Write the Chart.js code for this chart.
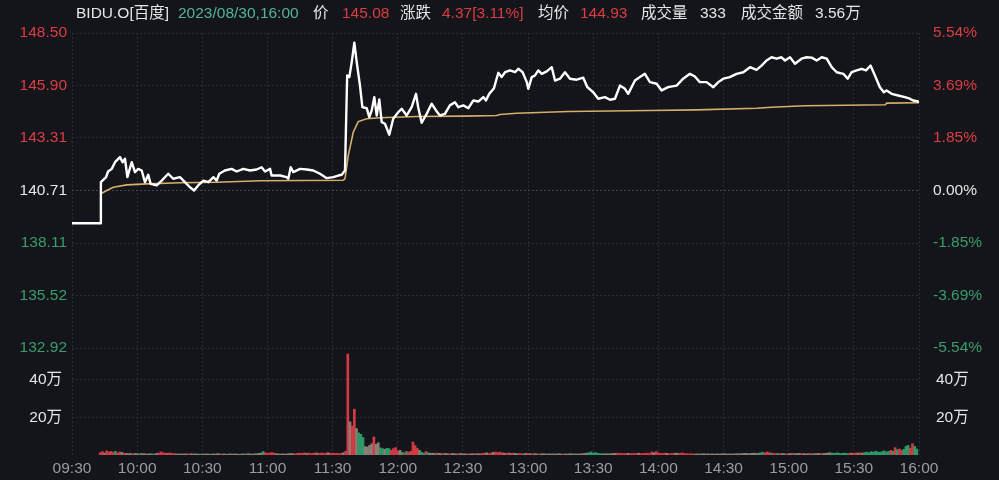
<!DOCTYPE html>
<html>
<head>
<meta charset="utf-8">
<script src="https://cdn.jsdelivr.net/npm/chart.js@4.4.0/dist/chart.umd.min.js"></script>
<style>
  html, body { margin: 0; padding: 0; background: #14151a; }
  #wrap { position: relative; width: 999px; height: 480px; overflow: hidden; }
  #head { position: absolute; left: 0; top: 0; width: 999px; height: 26px;
          font: 15.5px "Liberation Sans", "Noto Sans CJK SC", sans-serif; color: #e6e6e6; }
  #head span { position: absolute; top: 4px; line-height: 17px; white-space: nowrap; }
  .red { color: #dc3d44; }
  .teal { color: #52b49e; }
  canvas { position: absolute; left: 0; top: 0; }
</style>
</head>
<body>
<div id="wrap">
  <canvas id="chart" width="999" height="480"></canvas>
  <div id="head">
    <span style="left:76px">BIDU.O[百度]</span>
    <span class="teal" style="left:178px">2023/08/30,16:00</span>
    <span style="left:313px">价</span>
    <span class="red" style="left:342px">145.08</span>
    <span style="left:400px">涨跌</span>
    <span class="red" style="left:442px">4.37[3.11%]</span>
    <span style="left:538px">均价</span>
    <span class="red" style="left:580px">144.93</span>
    <span style="left:641px">成交量</span>
    <span style="left:700px">333</span>
    <span style="left:741px">成交金额</span>
    <span style="left:815px">3.56万</span>
  </div>
</div>
<script>
// --- data (minutes since 09:30, prices in USD, volume in 万) ---
const timeLabels = ["09:30", "10:00", "10:30", "11:00", "11:30", "12:00", "12:30",
  "13:00", "13:30", "14:00", "14:30", "15:00", "15:30", "16:00"];
const prevClose = 140.71;
const priceTicks = [132.92, 135.52, 138.11, 140.71, 143.31, 145.90, 148.50];
const pctTicks = [-5.54, -3.69, -1.85, 0, 1.85, 3.69, 5.54];
const volTicks = [20, 40];

const priceMinutes = [0, 13, 13.3, 15.7, 16.6, 18.3, 19.8, 22.1, 23.3, 24.4, 25.5, 27.5, 29.0, 30.5, 32.1,
  33.6, 35.1, 36.2, 39.0, 41.3, 44.3, 46.6, 49.7, 52.0, 54.3, 56.2, 58.1, 60.5, 62.8, 65.1, 66.6,
  67.8, 70.4, 73.5, 75.8, 78.9, 82.0, 85.0, 87.3, 88.9, 91.2, 91.9, 95.8, 98.8, 99.6, 100.7, 101.9,
  105.0, 108.1, 111.1, 114.2, 117.3, 120.3, 122.6, 124.2, 125.7, 126.7, 127.7, 128.8, 130.0, 131.1,
  132.6, 133.7, 135.7, 136.9, 138.0, 139.2, 140.3, 141.5, 142.6, 144.1, 146.1, 147.9, 150.2, 151.8,
  154.1, 156.4, 158.4, 159.4, 161.0, 163.3, 165.6, 167.6, 169.4, 171.7, 174.0, 176.3, 177.9, 180.2,
  182.5, 184.8, 187.1, 189.4, 190.6, 192.1, 194.3, 195.5, 196.3, 197.8, 199.4, 201.7, 204.0, 205.5,
  207.5, 209.4, 210.1, 211.7, 213.2, 214.7, 216.3, 218.6, 220.9, 222.4, 224.7, 227.0, 229.3, 232.4,
  235.4, 237.3, 240.0, 242.3, 245.4, 247.7, 250.0, 252.3, 254.6, 256.1, 259.2, 261.5, 263.8, 266.1,
  269.2, 271.5, 274.5, 278.4, 281.4, 284.5, 286.8, 289.1, 292.2, 295.3, 297.6, 299.9, 302.9, 306.0,
  309.1, 312.2, 315.2, 317.5, 319.8, 322.1, 324.4, 326.7, 328.3, 330.6, 332.9, 335.9, 338.3, 340.6,
  342.9, 345.2, 347.5, 349.8, 352.1, 355.2, 357.2, 359.0, 361.3, 363.6, 365.6, 367.7, 369.7, 372.0,
  373.8, 375.1, 377.4, 380.4, 383.5, 385.8, 387.3, 389.2, 390];
const prices = [139.09, 139.09, 141.12, 141.37, 141.65, 141.78, 142.11, 142.36, 142.11, 142.28, 141.37, 142.11, 141.62, 141.78, 141.70,
  141.12, 141.49, 141.04, 140.96, 141.20, 141.54, 141.29, 141.37, 141.12, 140.87, 140.71, 140.96, 141.20, 141.12, 141.37, 141.20,
  141.54, 141.70, 141.78, 141.65, 141.78, 141.70, 141.75, 141.86, 141.65, 141.78, 141.45, 141.45, 141.37, 141.29, 141.86, 141.62,
  141.78, 141.75, 141.70, 141.54, 141.32, 141.37, 141.45, 141.49, 141.70, 146.40, 146.32, 147.06, 148.02, 147.06,
  145.90, 144.83, 144.78, 144.34, 144.67, 145.33, 144.42, 145.21, 144.09, 144.01, 143.47, 144.26, 144.58, 144.75,
  144.42, 144.83, 145.49, 144.83, 144.06, 144.50, 145.00, 144.67, 144.42, 144.50, 144.92, 145.08, 144.83, 144.92,
  144.78, 145.16, 145.11, 145.33, 145.16, 145.49, 145.77, 146.24, 146.53, 146.32, 146.56, 146.65, 146.56, 146.73,
  146.56, 146.07, 145.74, 146.32, 146.40, 146.65, 146.48, 146.60, 146.81, 146.15, 146.24, 146.56, 146.24, 146.19,
  146.29, 145.82, 145.57, 145.25, 145.33, 145.20, 145.25, 145.90, 145.74, 145.49, 146.15, 146.32, 146.48, 146.07,
  145.99, 145.66, 145.82, 145.90, 146.24, 146.48, 146.35, 146.07, 146.07, 145.82, 146.07, 146.24, 146.32, 146.48,
  146.56, 146.81, 146.68, 146.89, 147.14, 147.30, 147.23, 147.30, 147.14, 147.30, 146.98, 147.23, 147.30, 147.28,
  147.14, 147.30, 147.23, 146.81, 146.56, 146.48, 146.24, 146.56, 146.65, 146.73, 146.65, 146.89, 146.40, 145.82,
  145.57, 145.66, 145.49, 145.41, 145.33, 145.25, 145.16, 145.13, 145.08];

const avgMinutes = [0, 13, 13.3, 16.0, 19.0, 25.2, 34.4, 49.7, 66.6, 86.6, 124.9, 125.7, 127.2, 129.5,
  131.8, 135.7, 141.8, 158.7, 180.2, 195.5, 197.1, 204.7, 228.4, 266.1, 287.6, 315.2, 322.1, 337.5,
  374.5, 375.1, 390];
const avgPrices = [139.09, 139.09, 140.55, 140.71, 140.87, 140.99, 141.04, 141.09, 141.12, 141.19, 141.22, 141.29, 142.44, 143.59,
  144.12, 144.26, 144.31, 144.37, 144.39, 144.42, 144.47, 144.53, 144.62, 144.67, 144.70, 144.78, 144.83, 144.90,
  144.95, 145.03, 145.05];

// one bar per minute starting at minute 13 (09:43)
const volStart = 13;
const volumes = [
  1.2, 1.8, 1.0, 2.2, 1.5, 1.9, 1.3, 2.0, 1.1, 1.6,
  1.4, 0.9, 0.8, 0.7, 0.9, 0.6, 0.8, 0.7, 0.6, 0.8,
  0.7, 0.6, 0.5, 0.7, 0.6, 0.5, 0.9, 1.0, 1.6, 1.2,
  1.0, 0.8, 1.1, 0.9, 0.7, 0.6, 0.5, 0.6, 0.5, 0.6,
  0.5, 0.6, 0.7, 0.5, 0.6, 0.5, 0.4, 0.6, 0.5, 0.6,
  0.5, 0.4, 0.6, 0.5, 0.7, 0.6, 0.5, 0.6, 0.4, 0.5,
  0.6, 0.5, 0.6, 0.5, 0.4, 0.5, 0.6, 0.5, 0.7, 0.6,
  0.5, 0.6, 0.7, 0.8, 1.0, 1.8, 1.2, 0.9, 1.1, 1.3,
  1.0, 0.7, 0.6, 0.5, 0.6, 0.5, 0.6, 0.7, 0.8, 0.6,
  0.7, 0.9, 1.0, 0.8, 1.1, 0.9, 1.0, 0.8, 0.9, 1.2,
  1.0, 0.9, 1.1, 0.8, 1.0, 1.2, 0.9, 1.0, 0.8, 0.9,
  0.8, 0.9, 1.2, 2.0,
  53.8, 17.7, 15.4, 24.4, 14.1, 11.8, 11.0, 9.3, 4.5, 4.2,
  5.1, 6.0, 9.6, 5.7, 6.5, 3.8, 3.4, 3.0, 3.6, 3.4,
  2.5, 3.4, 3.9, 2.0, 2.5, 1.5, 1.2, 1.8, 1.5, 2.0,
  6.9, 5.0, 3.5, 2.5, 1.5, 1.0, 1.8, 1.2, 0.9, 1.0,
  0.8, 1.0, 0.9, 0.7, 0.8, 0.9, 0.7, 0.6, 0.8, 0.7,
  0.6, 0.7, 0.8, 0.6, 0.7, 0.6, 0.5, 0.7, 0.6, 0.8,
  0.7, 0.6, 0.9, 1.0, 1.2, 0.8, 1.1, 1.4, 1.6, 1.3,
  1.5, 1.2, 1.0, 0.9, 1.1, 0.8, 1.0, 0.9, 0.7, 0.8,
  0.7, 0.6, 0.9, 0.8, 0.7, 0.6, 0.7, 0.6, 0.5, 0.6,
  0.7, 0.6, 0.5, 0.6, 0.5, 0.6, 0.5, 0.7, 0.6, 0.5,
  0.6, 0.5, 0.6, 0.7, 0.5, 0.6, 0.5, 0.6, 0.7, 0.8,
  1.0, 1.2, 1.6, 1.0, 1.3, 0.9, 0.8, 0.7, 0.6, 0.7,
  0.6, 0.7, 0.8, 0.9, 1.0, 0.8, 0.9, 0.7, 0.8, 0.9,
  0.8, 0.7, 0.9, 0.8, 1.0, 0.7, 0.8, 0.9, 1.0, 0.8,
  1.6, 1.2, 1.8, 1.1, 0.9, 0.8, 1.0, 0.9, 0.7, 0.8,
  0.9, 1.0, 0.8, 0.9, 1.1, 0.8, 0.7, 0.6, 0.7, 0.6,
  0.5, 0.6, 0.5, 0.6, 0.7, 0.5, 0.6, 0.5, 0.6, 0.5,
  0.6, 0.5, 0.6, 0.7, 0.6, 0.5, 0.6, 0.5, 0.6, 0.7,
  0.6, 0.7, 0.8, 0.9, 0.8, 0.7, 0.9, 1.0, 0.8, 0.9,
  1.2, 1.5, 1.1, 1.6, 1.3, 1.0, 0.9, 0.8, 0.9, 0.7,
  0.8, 0.7, 0.6, 0.7, 0.8, 0.9, 0.7, 0.8, 0.9, 0.7,
  0.8, 0.6, 0.7, 0.8, 0.6, 0.7, 0.8, 0.9, 0.7, 0.8,
  0.9, 1.0, 1.2, 1.0, 0.9, 1.1, 1.0, 0.8, 0.9, 1.0,
  0.8, 0.9, 1.0, 0.9, 1.1, 1.0, 1.2, 1.0, 1.3, 1.5,
  1.2, 1.8, 1.5, 2.0, 1.6, 1.4, 1.8, 2.2, 1.6, 1.9,
  2.5, 2.0, 3.9, 2.8, 3.2, 2.4, 3.0, 4.6, 5.1, 3.6,
  6.0, 4.6, 3.2
];
// r = up (red), g = down (green), n = unchanged (grey), one letter per bar
const volSides = [
  "rrnrrrrgrrnr", "nnnrnngnnnnngnn", "rrrrnrrr",
  "nnnnnnrnnn" + "nngnnnnnnn" + "nrnnnnnnnn" + "nngnnnnnnn",
  "grrrrrn", "nnnnnnnnrr", "rrrnrrrrnrrrrnrrrr", "rrnr",
  "rnrrngggnnnnrnnggngg", "rrrrngrgrrrrrnggrgnn",
  "nrnnrnnrnn" + "nrnnnrnnnr" + "nnrrnrrnrr",
  "rrnrrnrnnr" + "rnnrnrnnrn" + "n",
  "nnnnnnnnrn" + "nnnnnnnnnn",
  "gggggggnn", "nnnn",
  "rrrrrnrrrr" + "nrrrrrrnrr" + "rrrnrrr",
  "nn", "rrrrrrr",
  "nnnnnnnnnn" + "nnnnnnnnnn" + "nnnnnnnnnn",
  "ggrrrgrrg",
  "rnnrnnrnnn" + "rnnnrnnnnr" + "nnnn",
  "gggggggg", "rnrrnrn", "ggggggggggg", "grgrgrrgggrrgg"
].join("");

// --- styling ---
const RED = "#dc3d44";
const GREEN = "#3a9d6c";
const WHITE = "#e6e6e6";
const GREY_TXT = "#9c9ca0";
const GRID = "#2a2b30";
const FONT = '"Liberation Sans", "Noto Sans CJK SC", sans-serif';
const sideColor = { r: "#d23a43", g: "#2f9868", n: "#8a8076" };

function signColor(v, base) {
  if (v > base + 1e-6) return RED;
  if (v < base - 1e-6) return GREEN;
  return WHITE;
}

const pricePoints = priceMinutes.map((m, i) => ({ x: m, y: prices[i] }));
const avgPoints = avgMinutes.map((m, i) => ({ x: m, y: avgPrices[i] }));
const volPoints = volumes.map((v, i) => ({ x: volStart + i, y: v }));
const volColors = volumes.map((v, i) => sideColor[volSides[i]] || sideColor.n);

const fixedTicks = list => scale => { scale.ticks = list.map(v => ({ value: v })); };

new Chart(document.getElementById("chart"), {
  type: "line",
  data: {
    datasets: [
      {
        data: pricePoints, yAxisID: "yPrice",
        borderColor: "#ffffff", borderWidth: 2.4, pointRadius: 0, tension: 0,
        borderJoinStyle: "round"
      },
      {
        data: avgPoints, yAxisID: "yPrice",
        borderColor: "#d6ae6c", borderWidth: 1.6, pointRadius: 0, tension: 0
      },
      {
        type: "bar", data: volPoints, yAxisID: "yVol",
        backgroundColor: volColors, barThickness: 2, grouped: false
      }
    ]
  },
  options: {
    responsive: false,
    animation: false,
    devicePixelRatio: 1,
    layout: { padding: { top: 33, left: 0, right: 0, bottom: 0 } },
    plugins: { legend: { display: false }, tooltip: { enabled: false } },
    scales: {
      x: {
        type: "linear", min: 0, max: 390, offset: false,
        afterBuildTicks: fixedTicks(timeLabels.map((t, i) => i * 30)),
        afterFit: s => { s.height = 25; },
        ticks: {
          color: GREY_TXT, font: { family: FONT, size: 15.5 }, padding: 4,
          maxRotation: 0, autoSkip: false,
          callback: v => timeLabels[Math.round(v / 30)]
        },
        grid: { color: GRID, drawTicks: false, offset: false },
        border: { display: false, dash: [2, 2] }
      },
      yVol: {
        position: "left", stack: "left", stackWeight: 107,
        min: 0, max: 57,
        afterBuildTicks: fixedTicks(volTicks),
        afterFit: s => { s.width = 72; },
        ticks: {
          color: WHITE, font: { family: FONT, size: 15.5 }, padding: 10,
          callback: v => v + "万"
        },
        grid: { color: GRID, drawTicks: false },
        border: { display: false, dash: [2, 2] }
      },
      yPrice: {
        position: "left", stack: "left", stackWeight: 315,
        min: priceTicks[0], max: priceTicks[priceTicks.length - 1],
        afterBuildTicks: fixedTicks(priceTicks),
        afterFit: s => { s.width = 72; },
        ticks: {
          font: { family: FONT, size: 15.5 }, padding: 5,
          color: ctx => signColor(ctx.tick.value, prevClose),
          callback: v => v.toFixed(2)
        },
        grid: {
          drawTicks: false,
          color: ctx => Math.abs(ctx.tick.value - prevClose) < 1e-6 ? "#45464c" : GRID
        },
        border: { display: false, dash: [2, 2] }
      },
      yPct: {
        position: "right", stack: "right", stackWeight: 315,
        min: pctTicks[0], max: pctTicks[pctTicks.length - 1],
        afterBuildTicks: fixedTicks(pctTicks),
        afterFit: s => { s.width = 80; },
        ticks: {
          font: { family: FONT, size: 15.5 }, padding: 6,
          color: ctx => signColor(ctx.tick.value, 0),
          callback: v => v.toFixed(2) + "%"
        },
        grid: { display: false },
        border: { display: false }
      },
      yVolR: {
        position: "right", stack: "right", stackWeight: 107,
        min: 0, max: 57,
        afterBuildTicks: fixedTicks(volTicks),
        afterFit: s => { s.width = 80; },
        ticks: {
          color: WHITE, font: { family: FONT, size: 15.5 }, padding: 9,
          callback: v => v + "万"
        },
        grid: { display: false },
        border: { display: false }
      }
    }
  }
});
</script>
</body>
</html>
